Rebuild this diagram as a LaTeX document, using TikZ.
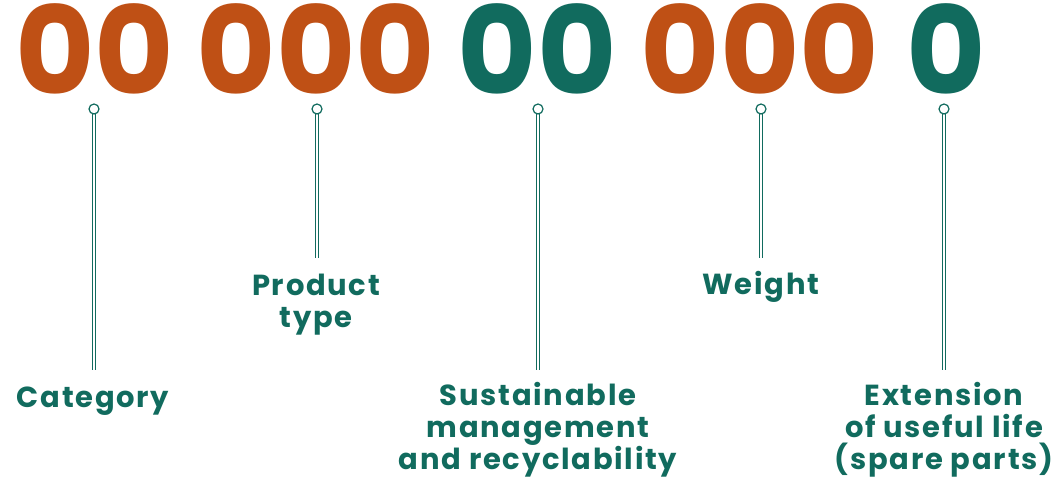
\documentclass[tikz,border=0pt]{standalone}
\usepackage{fontspec}
\setmainfont{Poppins}[BoldFont=* Bold]
\newfontfamily\lblfont{Poppins}[BoldFont=* Bold, LetterSpace=6]
\definecolor{rust}{HTML}{BF5015}
\definecolor{teal}{HTML}{116B5E}
\begin{document}
\begin{tikzpicture}[x=1pt,y=-1pt,
  digits/.style={font=\fontsize{122}{122}\selectfont\bfseries, inner sep=0pt, anchor=base},
  lbl/.style={font=\lblfont\fontsize{29}{32}\selectfont\bfseries, text=teal, align=center, inner sep=0pt, anchor=base},
  stem/.style={draw=teal, line width=0.9pt, double=white, double distance=2.4pt},
  knob/.style={circle, draw=teal, line width=1.2pt, fill=white, minimum size=10pt, inner sep=0pt}]
\useasboundingbox (0,0) rectangle (1055,478);
\node[digits, text=rust] (g1) at (95,95) {00};
\node[digits, text=rust] (g2) at (316,95) {000};
\node[digits, text=teal] (g3) at (537,95) {00};
\node[digits, text=rust] (g4) at (760,95) {000};
\node[digits, text=teal] (g5) at (946,95) {0};
\node[lbl] (l1) at (93,407) {Category};
\node[lbl] (l2) at (316,327) {Product\\type};
\node[lbl] (l3) at (538,469) {Sustainable\\management\\and recyclability};
\node[lbl] (l4) at (761,295) {Weight};
\node[lbl] (l5) at (944,469) {Extension\\of useful life\\(spare parts)};
\coordinate (k1) at (94,109); \coordinate (e1) at (94,370);
\coordinate (k2) at (317,109); \coordinate (e2) at (317,258);
\coordinate (k3) at (538,109); \coordinate (e3) at (538,370);
\coordinate (k4) at (761,109); \coordinate (e4) at (761,258);
\coordinate (k5) at (944,109); \coordinate (e5) at (944,370);
\foreach \i in {1,...,5}{
  \draw[stem] (k\i) -- (e\i);
  \node[knob] (c\i) at (k\i) {};
}
\end{tikzpicture}
\end{document}
